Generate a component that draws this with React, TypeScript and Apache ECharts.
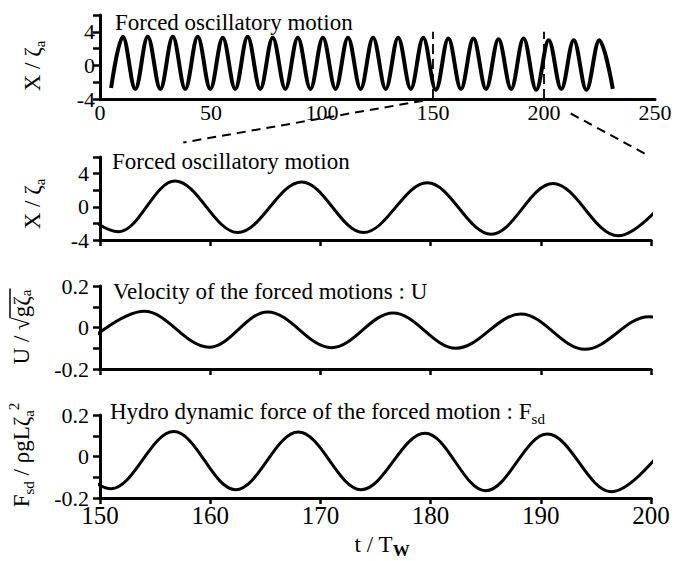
import React, { useEffect, useRef } from 'react';
import * as echarts from 'echarts';

const FONT = '"Liberation Serif", "Times New Roman", serif';

// ---- Panel 1: whole run, extrema of X/ζa ----
const overviewTime = [
  5.0, 10.3, 15.9, 21.5, 27.2, 32.8, 38.4, 44.0, 49.7, 55.3, 60.9, 66.5, 72.2, 77.8,
  83.5, 89.1, 94.8, 100.4, 106.1, 111.7, 117.4, 123.0, 128.7, 134.3, 140.0, 145.6,
  151.3, 156.9, 162.6, 168.2, 173.9, 179.5, 185.2, 190.8, 196.5, 202.1, 207.8, 213.4,
  219.1, 224.9, 231.0,
];
const overviewX = [
  -2.7, 3.4, -2.8, 3.4, -2.8, 3.4, -2.8, 3.4, -2.8, 3.3, -2.8, 3.4, -2.8, 3.3,
  -2.8, 3.3, -2.8, 3.3, -2.8, 3.3, -2.8, 3.3, -2.8, 3.3, -2.8, 3.3,
  -2.9, 3.2, -2.8, 3.2, -2.8, 3.1, -2.8, 3.2, -2.9, 3.0, -2.8, 3.0,
  -2.9, 3.0, -2.8,
];
const zoomWindow = [150, 200];

// ---- Panel 2: forced oscillatory motion X/ζa (extrema) ----
const motionTime = [145.6, 151.7, 156.8, 162.5, 168.3, 173.9, 179.7, 185.5, 191.1, 197.0, 202.6];
const motionX = [3.2, -3.0, 3.1, -3.1, 3.0, -3.1, 2.9, -3.3, 2.8, -3.5, 2.8];

// ---- Panel 3: velocity U/sqrt(gζa) (extrema) ----
const velocityTime = [148.3, 154.0, 159.9, 165.2, 171.0, 176.6, 182.3, 188.2, 194.0, 199.8, 205.6];
const velocityU = [-0.095, 0.078, -0.095, 0.075, -0.097, 0.07, -0.1, 0.065, -0.105, 0.052, -0.11];

// ---- Panel 4: hydrodynamic force Fsd/ρgLζa² (extrema) ----
const forceTime = [145.3, 151.0, 156.7, 162.3, 168.0, 173.7, 179.5, 185.0, 190.6, 196.4, 202.1];
const forceF = [0.12, -0.155, 0.12, -0.16, 0.118, -0.16, 0.112, -0.165, 0.108, -0.17, 0.105];

const motionLabels = ['-4', '0', '4'];
const smallLabels = ['-0.2', '0', '0.2'];

const titles = [
  '{n|Forced oscillatory motion}',
  '{n|Forced oscillatory motion}',
  '{n|Velocity of the forced motions : U}',
  '{n|Hydro dynamic force of the forced motion : F}{s|sd}',
];

const zip = (a: number[], b: number[]) => a.map((t, i) => [t, b[i]]);

function rich(size: number) {
  const k = { fill: '#000', color: '#000', fontFamily: FONT };
  return {
    n: { ...k, fontSize: size, lineHeight: 30 },
    s: { ...k, fontSize: 15, lineHeight: 14, verticalAlign: 'bottom' },
    w: { ...k, fontSize: 17, fontWeight: 'bold', lineHeight: 14, verticalAlign: 'bottom' },
    p: { ...k, fontSize: 15, lineHeight: 14, verticalAlign: 'top' },
  };
}

function measure(text: string, size: number) {
  const c = document.createElement('canvas').getContext('2d')!;
  c.font = `${size}px ${FONT}`;
  return c.measureText(text).width;
}

export default function App() {
  const ref = useRef<HTMLDivElement>(null);
  useEffect(() => {
    const chart = echarts.init(ref.current!, null, { renderer: 'svg' });
    const black = '#000';
    const axisLine = { show: true, onZero: false, lineStyle: { color: black, width: 3 } };
    const grids = [
      { left: 100, top: 15, width: 555, height: 84 },
      { left: 100, top: 157, width: 551, height: 83 },
      { left: 100, top: 286, width: 551, height: 83 },
      { left: 100, top: 415, width: 551, height: 83 },
    ];
    const xAxes: any[] = [
      {
        type: 'value', gridIndex: 0, min: 0, max: 250, interval: 50,
        axisLine, axisTick: { show: false }, splitLine: { show: false },
        axisLabel: { color: black, fontFamily: FONT, fontSize: 22, margin: 2 },
      },
    ];
    for (let g = 1; g <= 3; g++) {
      xAxes.push({
        type: 'value', gridIndex: g, min: 150, max: 200, interval: 10,
        axisLine, splitLine: { show: false },
        axisTick: { show: true, length: 6, lineStyle: { color: black, width: 2.5 } },
        axisLabel: { show: g === 3, color: black, fontFamily: FONT, fontSize: 25, margin: 5 },
      });
    }
    const yBase = (g: number, min: number, max: number, interval: number, labels: string[], margin: number) => ({
      type: 'value', gridIndex: g, min, max, interval,
      axisLine, splitLine: { show: false },
      axisTick: { show: true, length: 7, lineStyle: { color: black, width: 2.5 } },
      axisLabel: {
        color: black, fontFamily: FONT, fontSize: 22, margin,
        formatter: (v: number) => {
          const s = String(Math.round(v * 1000) / 1000);
          return labels.includes(s) ? s : '';
        },
      },
    });
    const yAxes = [
      yBase(0, -4, 6, 2, motionLabels, 5),
      yBase(1, -4, 6, 2, motionLabels, 11),
      yBase(2, -0.2, 0.2, 0.1, smallLabels, 11),
      yBase(3, -0.2, 0.2, 0.1, smallLabels, 11),
    ];
    const lineSeries = (g: number, data: number[][], width: number) => ({
      type: 'line', xAxisIndex: g, yAxisIndex: g, data,
      smooth: 0.36, smoothMonotone: 'x', showSymbol: false, symbol: 'none',
      clip: true, silent: true,
      lineStyle: { color: black, width },
    });
    const s0: any = lineSeries(0, zip(overviewTime, overviewX), 4);
    s0.markLine = {
      silent: true, symbol: ['none', 'none'], label: { show: false },
      lineStyle: { color: black, width: 1.8, type: [10, 5] },
      data: zoomWindow.map((t) => [{ coord: [t, -4] }, { coord: [t, 4] }]),
    };
    chart.setOption({
      animation: false,
      grid: grids,
      xAxis: xAxes,
      yAxis: yAxes,
      series: [
        s0,
        lineSeries(1, zip(motionTime, motionX), 3),
        lineSeries(2, zip(velocityTime, velocityU), 3),
        lineSeries(3, zip(forceTime, forceF), 3),
      ],
    });

    // connector dashed lines from the zoom window to panel 2
    const a = chart.convertToPixel({ gridIndex: 0 }, [zoomWindow[0], -4]) as number[];
    const b = chart.convertToPixel({ gridIndex: 1 }, [zoomWindow[0], 6]) as number[];
    const c = chart.convertToPixel({ gridIndex: 0 }, [zoomWindow[1], -4]) as number[];
    const d = chart.convertToPixel({ gridIndex: 1 }, [zoomWindow[1], 6]) as number[];
    const lerp = (p: number[], q: number[], f: number) => [p[0] + (q[0] - p[0]) * f, p[1] + (q[1] - p[1]) * f];
    const dashStyle = { stroke: black, lineWidth: 2, lineDash: [9, 6] };
    const l1 = [lerp(a, b, 0.03), lerp(a, b, 0.75)];
    const l2 = [lerp(c, d, 0.25), lerp(c, d, 0.94)];

    const titleY = [22, 161, 291, 411];
    const titleX = [115, 112, 113, 110];
    const graphics: any[] = [
      { type: 'line', shape: { x1: l1[0][0], y1: l1[0][1], x2: l1[1][0], y2: l1[1][1] }, style: dashStyle },
      { type: 'line', shape: { x1: l2[0][0], y1: l2[0][1], x2: l2[1][0], y2: l2[1][1] }, style: dashStyle },
    ];
    titles.forEach((t, i) => {
      graphics.push({
        type: 'text', x: titleX[i], y: titleY[i],
        style: { text: t, rich: rich(23), fill: black, align: 'left', verticalAlign: 'middle' },
      });
    });
    // y-axis names
    const yNames = [
      { text: '{n|X / ζ}{s|a}', x: 32, y: 66 },
      { text: '{n|X / ζ}{s|a}', x: 32, y: 204 },
      { text: '{n|F}{s|sd}{n| / ρgLζ}{s|a}{p|2}', x: 21, y: 455 },
    ];
    yNames.forEach((n) => {
      graphics.push({
        type: 'text', x: n.x, y: n.y, rotation: Math.PI / 2,
        style: { text: n.text, rich: rich(23), fill: black, align: 'center', verticalAlign: 'middle' },
      });
    });
    // U / sqrt(g ζa) with overline
    const wA = measure('U / √', 23);
    const wB = measure('gζ', 23);
    const wS = measure('a', 15);
    const total = wA + wB + wS;
    const x0 = -total / 2;
    graphics.push({
      type: 'group', x: 21, y: 327, rotation: Math.PI / 2,
      children: [
        { type: 'text', x: x0, y: 0, style: { text: 'U / √', font: `23px ${FONT}`, fill: black, align: 'left', verticalAlign: 'middle' } },
        { type: 'text', x: x0 + wA, y: 0, style: { text: 'gζ', font: `23px ${FONT}`, fill: black, align: 'left', verticalAlign: 'middle' } },
        { type: 'text', x: x0 + wA + wB, y: 5, style: { text: 'a', font: `15px ${FONT}`, fill: black, align: 'left', verticalAlign: 'middle' } },
        { type: 'line', shape: { x1: x0 + wA - 1, y1: -11, x2: x0 + total + 1, y2: -11 }, style: { stroke: black, lineWidth: 1.5 } },
      ],
    });
    // x-axis name
    graphics.push({
      type: 'text', x: 382, y: 544,
      style: { text: '{n|t / T}{w|W}', rich: rich(23), fill: black, align: 'center', verticalAlign: 'middle' },
    });
    chart.setOption({ graphic: graphics });
    return () => chart.dispose();
  }, []);
  return (
    <div
      ref={ref}
      style={{ position: 'fixed', left: 0, top: 0, width: 686, height: 561, background: '#fff' }}
    />
  );
}
